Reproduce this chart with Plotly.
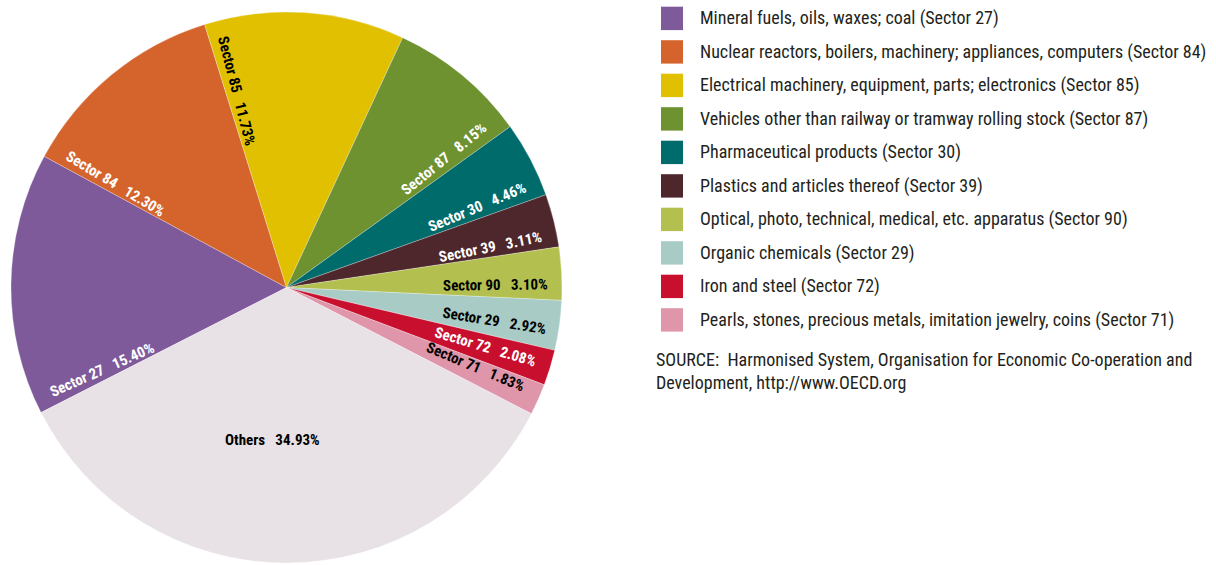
import math
import plotly.graph_objects as go

# Shares of exports by HS sector (percent)
sectors = ["Sector 27", "Sector 84", "Sector 85", "Sector 87", "Sector 30",
           "Sector 39", "Sector 90", "Sector 29", "Sector 72", "Sector 71", "Others"]
shares = [15.40, 12.30, 11.73, 8.15, 4.46, 3.11, 3.10, 2.92, 2.08, 1.83, 34.93]
descriptions = [
    "Mineral fuels, oils, waxes; coal (Sector 27)",
    "Nuclear reactors, boilers, machinery; appliances, computers (Sector 84)",
    "Electrical machinery, equipment, parts; electronics (Sector 85)",
    "Vehicles other than railway or tramway rolling stock (Sector 87)",
    "Pharmaceutical products (Sector 30)",
    "Plastics and articles thereof (Sector 39)",
    "Optical, photo, technical, medical, etc. apparatus (Sector 90)",
    "Organic chemicals (Sector 29)",
    "Iron and steel (Sector 72)",
    "Pearls, stones, precious metals, imitation jewelry, coins (Sector 71)",
]
source_note = ("SOURCE:\u00a0\u00a0Harmonised System, Organisation for Economic Co-operation and"
               "<br>Development, http://www.OECD.org")

# Styling
colors = ["#7f5a9b", "#d5642c", "#e0c000", "#6f9230", "#006b6b",
          "#4e272c", "#b3c050", "#a8cbc6", "#c8102e", "#e096aa", "#e8e1e6"]
label_colors = ["white", "white", "black", "white", "white",
                "white", "black", "black", "white", "black", "black"]
# where each label sits inside its slice: fraction along the slice (clockwise),
# radius as a fraction of the pie radius, and whether it follows the radius
label_pos = [0.054, 0.06, 0.07, 0.885, 0.81, 0.745, 0.69, 0.62, 0.46, 0.33, 0.54]
label_rad = [0.735, 0.725, 0.735, 0.737, 0.753, 0.757, 0.76, 0.765, 0.755, 0.745, 0.555]
label_radial = [True] * 10 + [False]

W, H = 1216, 565
ROTATION = 243
dom_x = [11 / W, 562 / W]
dom_y = [1 - 563 / H, 1 - 12 / H]

LABEL_FONT = "Liberation Sans Narrow, Roboto Condensed, DejaVu Sans Condensed, Arial Narrow, sans-serif"
TEXT_FONT = "Liberation Sans Narrow, Roboto Condensed, DejaVu Sans Condensed, Arial Narrow, sans-serif"

fig = go.Figure(go.Pie(
    labels=sectors,
    values=shares,
    sort=False,
    direction="clockwise",
    rotation=ROTATION,
    marker=dict(colors=colors, line=dict(color="rgba(255,255,255,0.45)", width=0.6)),
    textinfo="none",
    hovertemplate="%{label}: %{value:.2f}%<extra></extra>",
    domain=dict(x=dom_x, y=dom_y),
    showlegend=False,
))

# Pie geometry in pixels (plotly uses the smaller side of the domain)
cx = (dom_x[0] + dom_x[1]) / 2
cy = (dom_y[0] + dom_y[1]) / 2
R = min((dom_x[1] - dom_x[0]) * W, (dom_y[1] - dom_y[0]) * H) / 2

annotations = []
total = sum(shares)
start = ROTATION
for name, v, col, f, rf, radial in zip(sectors, shares, label_colors, label_pos, label_rad, label_radial):
    span = 360 * v / total
    theta = (start + f * span) % 360
    start += span
    t = math.radians(theta)
    r = rf * R
    x = cx + r * math.sin(t) / W
    y = cy + r * math.cos(t) / H
    if radial:
        ang = theta - 90 if theta < 180 else theta - 270
    else:
        ang = 0
    annotations.append(dict(
        x=x, y=y, xref="paper", yref="paper", xanchor="center", yanchor="middle",
        text=f"<b>{name}\u00a0\u00a0\u00a0{v:.2f}%</b>", showarrow=False, textangle=ang,
        font=dict(family=LABEL_FONT, size=15, color=col),
    ))

# Legend: colour squares with descriptions
row0, row_step = 18.4, 33.5
shapes = []
for i, (desc, col) in enumerate(zip(descriptions, colors)):
    yc = row0 + i * row_step
    shapes.append(dict(type="rect", xref="paper", yref="paper",
                       x0=661 / W, x1=683 / W, y0=1 - (yc - 11.7) / H, y1=1 - (yc + 11.7) / H,
                       fillcolor=col, line=dict(width=0)))
    annotations.append(dict(x=698 / W, y=1 - yc / H, xref="paper", yref="paper",
                            xanchor="left", yanchor="middle", text=desc, showarrow=False,
                            font=dict(family=TEXT_FONT, size=18, color="#231f20")))

annotations.append(dict(x=654 / W, y=1 - 347 / H, xref="paper", yref="paper",
                        xanchor="left", yanchor="top", align="left", text=source_note,
                        showarrow=False,
                        font=dict(family=TEXT_FONT, size=18, color="#231f20")))

fig.update_layout(
    width=W, height=H, autosize=False,
    margin=dict(l=0, r=0, t=0, b=0),
    paper_bgcolor="white", plot_bgcolor="white",
    annotations=annotations, shapes=shapes,
)

fig.write_html("out.html")
